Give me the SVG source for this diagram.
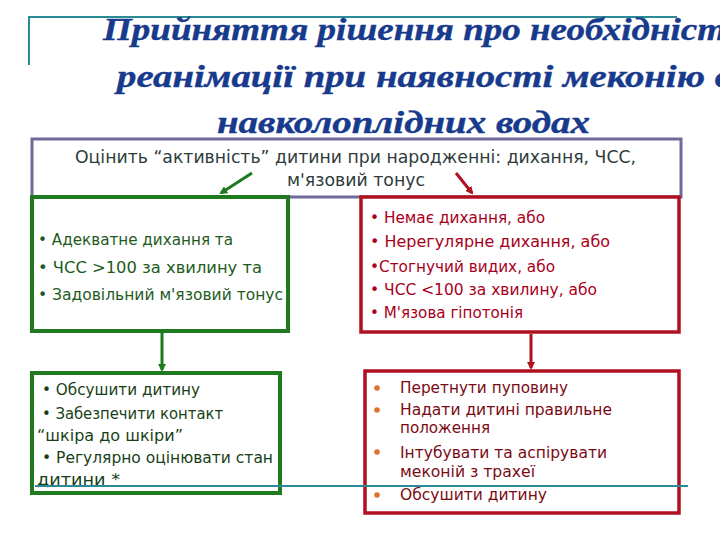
<svg xmlns="http://www.w3.org/2000/svg" width="720" height="540" viewBox="0 0 720 540">
<style>
.title{font-family:"Liberation Serif","DejaVu Serif",serif;font-weight:bold;font-style:italic;font-size:32px;fill:#173a8c;stroke:#173a8c;stroke-width:0.4}
.t{font-family:"DejaVu Sans","Liberation Sans",sans-serif;font-size:16px}
.top{fill:#2e3b3b;font-size:17px}
.g{fill:#1d5b1d}
.g2{fill:#173f17}
.r{fill:#a8001a}
.r2{fill:#7a0a14}
.teal{stroke:#2a8a95;stroke-width:2;fill:none}
.boxp{fill:#fff;stroke:#6e6a9a;stroke-width:3}
.boxg{fill:#fff;stroke:#1f7a1f;stroke-width:4}
.boxr{fill:#fff;stroke:#b01020;stroke-width:3.5}
.cg{stroke:#1f7a1f;stroke-width:3;fill:none}
.cr{stroke:#b01020;stroke-width:3;fill:none}
</style>
<defs>
<marker id="ag" markerWidth="8" markerHeight="8" refX="6" refY="4" orient="auto" markerUnits="userSpaceOnUse" viewBox="0 0 8 8"><path d="M0,0 L8,4 L0,8 Z" fill="#1f7a1f"/></marker>
<marker id="ar" markerWidth="8" markerHeight="8" refX="6" refY="4" orient="auto" markerUnits="userSpaceOnUse" viewBox="0 0 8 8"><path d="M0,0 L8,4 L0,8 Z" fill="#b01020"/></marker>
</defs>
<rect width="720" height="540" fill="#fff"/>
<g id="title">
<path class="teal" d="M29,65 V17 H677"/>
<text class="title" x="103" y="40" textLength="640" lengthAdjust="spacingAndGlyphs">Прийняття рішення про необхідність</text>
<text class="title" x="117" y="87" textLength="615" lengthAdjust="spacingAndGlyphs">реанімації при наявності меконію в</text>
<text class="title" x="217" y="133" textLength="373" lengthAdjust="spacingAndGlyphs">навколоплідних водах</text>
</g>
<g id="assess">
<rect class="boxp" x="32" y="139" width="649" height="58"/>
<text class="t top" x="75" y="163" textLength="561" lengthAdjust="spacingAndGlyphs">Оцінить “активність” дитини при народженні: дихання, ЧСС,</text>
<text class="t top" x="287" y="186" textLength="138" lengthAdjust="spacingAndGlyphs">м'язовий тонус</text>
</g>
<g id="good">
<rect class="boxg" x="32" y="197" width="256" height="134"/>
<text class="t g" x="38" y="245" textLength="195" lengthAdjust="spacingAndGlyphs">• Адекватне дихання та</text>
<text class="t g" x="38" y="273" textLength="224" lengthAdjust="spacingAndGlyphs">• ЧСС &gt;100 за хвилину та</text>
<text class="t g" x="38" y="300" textLength="245" lengthAdjust="spacingAndGlyphs">• Задовільний м'язовий тонус</text>
</g>
<g id="bad">
<rect class="boxr" x="361" y="197" width="318" height="135"/>
<text class="t r" x="370" y="223" textLength="175" lengthAdjust="spacingAndGlyphs">• Немає дихання, або</text>
<text class="t r" x="370" y="247" textLength="240" lengthAdjust="spacingAndGlyphs">• Нерегулярне дихання, або</text>
<text class="t r" x="370" y="272" textLength="185" lengthAdjust="spacingAndGlyphs">•Стогнучий видих, або</text>
<text class="t r" x="370" y="295" textLength="227" lengthAdjust="spacingAndGlyphs">• ЧСС &lt;100 за хвилину, або</text>
<text class="t r" x="370" y="318" textLength="153" lengthAdjust="spacingAndGlyphs">• М'язова гіпотонія</text>
</g>
<g id="good-action">
<rect class="boxg" x="32" y="373" width="248" height="120"/>
<text class="t g2" x="42" y="395" textLength="158" lengthAdjust="spacingAndGlyphs">• Обсушити дитину</text>
<text class="t g2" x="42" y="419" textLength="181" lengthAdjust="spacingAndGlyphs">• Забезпечити контакт</text>
<text class="t g2" x="37" y="441" textLength="146" lengthAdjust="spacingAndGlyphs">“шкіра до шкіри”</text>
<text class="t g2" x="42" y="463" textLength="231" lengthAdjust="spacingAndGlyphs">• Регулярно оцінювати стан</text>
<text class="t g2" x="37" y="485" textLength="83" lengthAdjust="spacingAndGlyphs">дитини *</text>
</g>
<g id="bad-action">
<rect class="boxr" x="365" y="371" width="314" height="142"/>
<g fill="#e07030"><circle cx="377" cy="388" r="2.8"/><circle cx="377" cy="410" r="2.8"/><circle cx="377" cy="452" r="2.8"/><circle cx="377" cy="495" r="2.8"/></g>
<text class="t r2" x="400" y="393" textLength="168" lengthAdjust="spacingAndGlyphs">Перетнути пуповину</text>
<text class="t r2" x="400" y="415" textLength="212" lengthAdjust="spacingAndGlyphs">Надати дитині правильне</text>
<text class="t r2" x="400" y="433" textLength="90" lengthAdjust="spacingAndGlyphs">положення</text>
<text class="t r2" x="400" y="458" textLength="207" lengthAdjust="spacingAndGlyphs">Інтубувати та аспірувати</text>
<text class="t r2" x="400" y="477" textLength="135" lengthAdjust="spacingAndGlyphs">меконій з трахеї</text>
<text class="t r2" x="400" y="500" textLength="147" lengthAdjust="spacingAndGlyphs">Обсушити дитину</text>
</g>
<g id="connectors">
<line class="cg" x1="252" y1="173" x2="221" y2="193" marker-end="url(#ag)"/>
<line class="cr" x1="456" y1="173" x2="472" y2="193" marker-end="url(#ar)"/>
<line class="cg" x1="162" y1="333" x2="162" y2="370" marker-end="url(#ag)"/>
<line class="cr" x1="531" y1="334" x2="531" y2="368" marker-end="url(#ar)"/>
</g>
<line class="teal" x1="35" y1="486" x2="688" y2="486"/>
</svg>
